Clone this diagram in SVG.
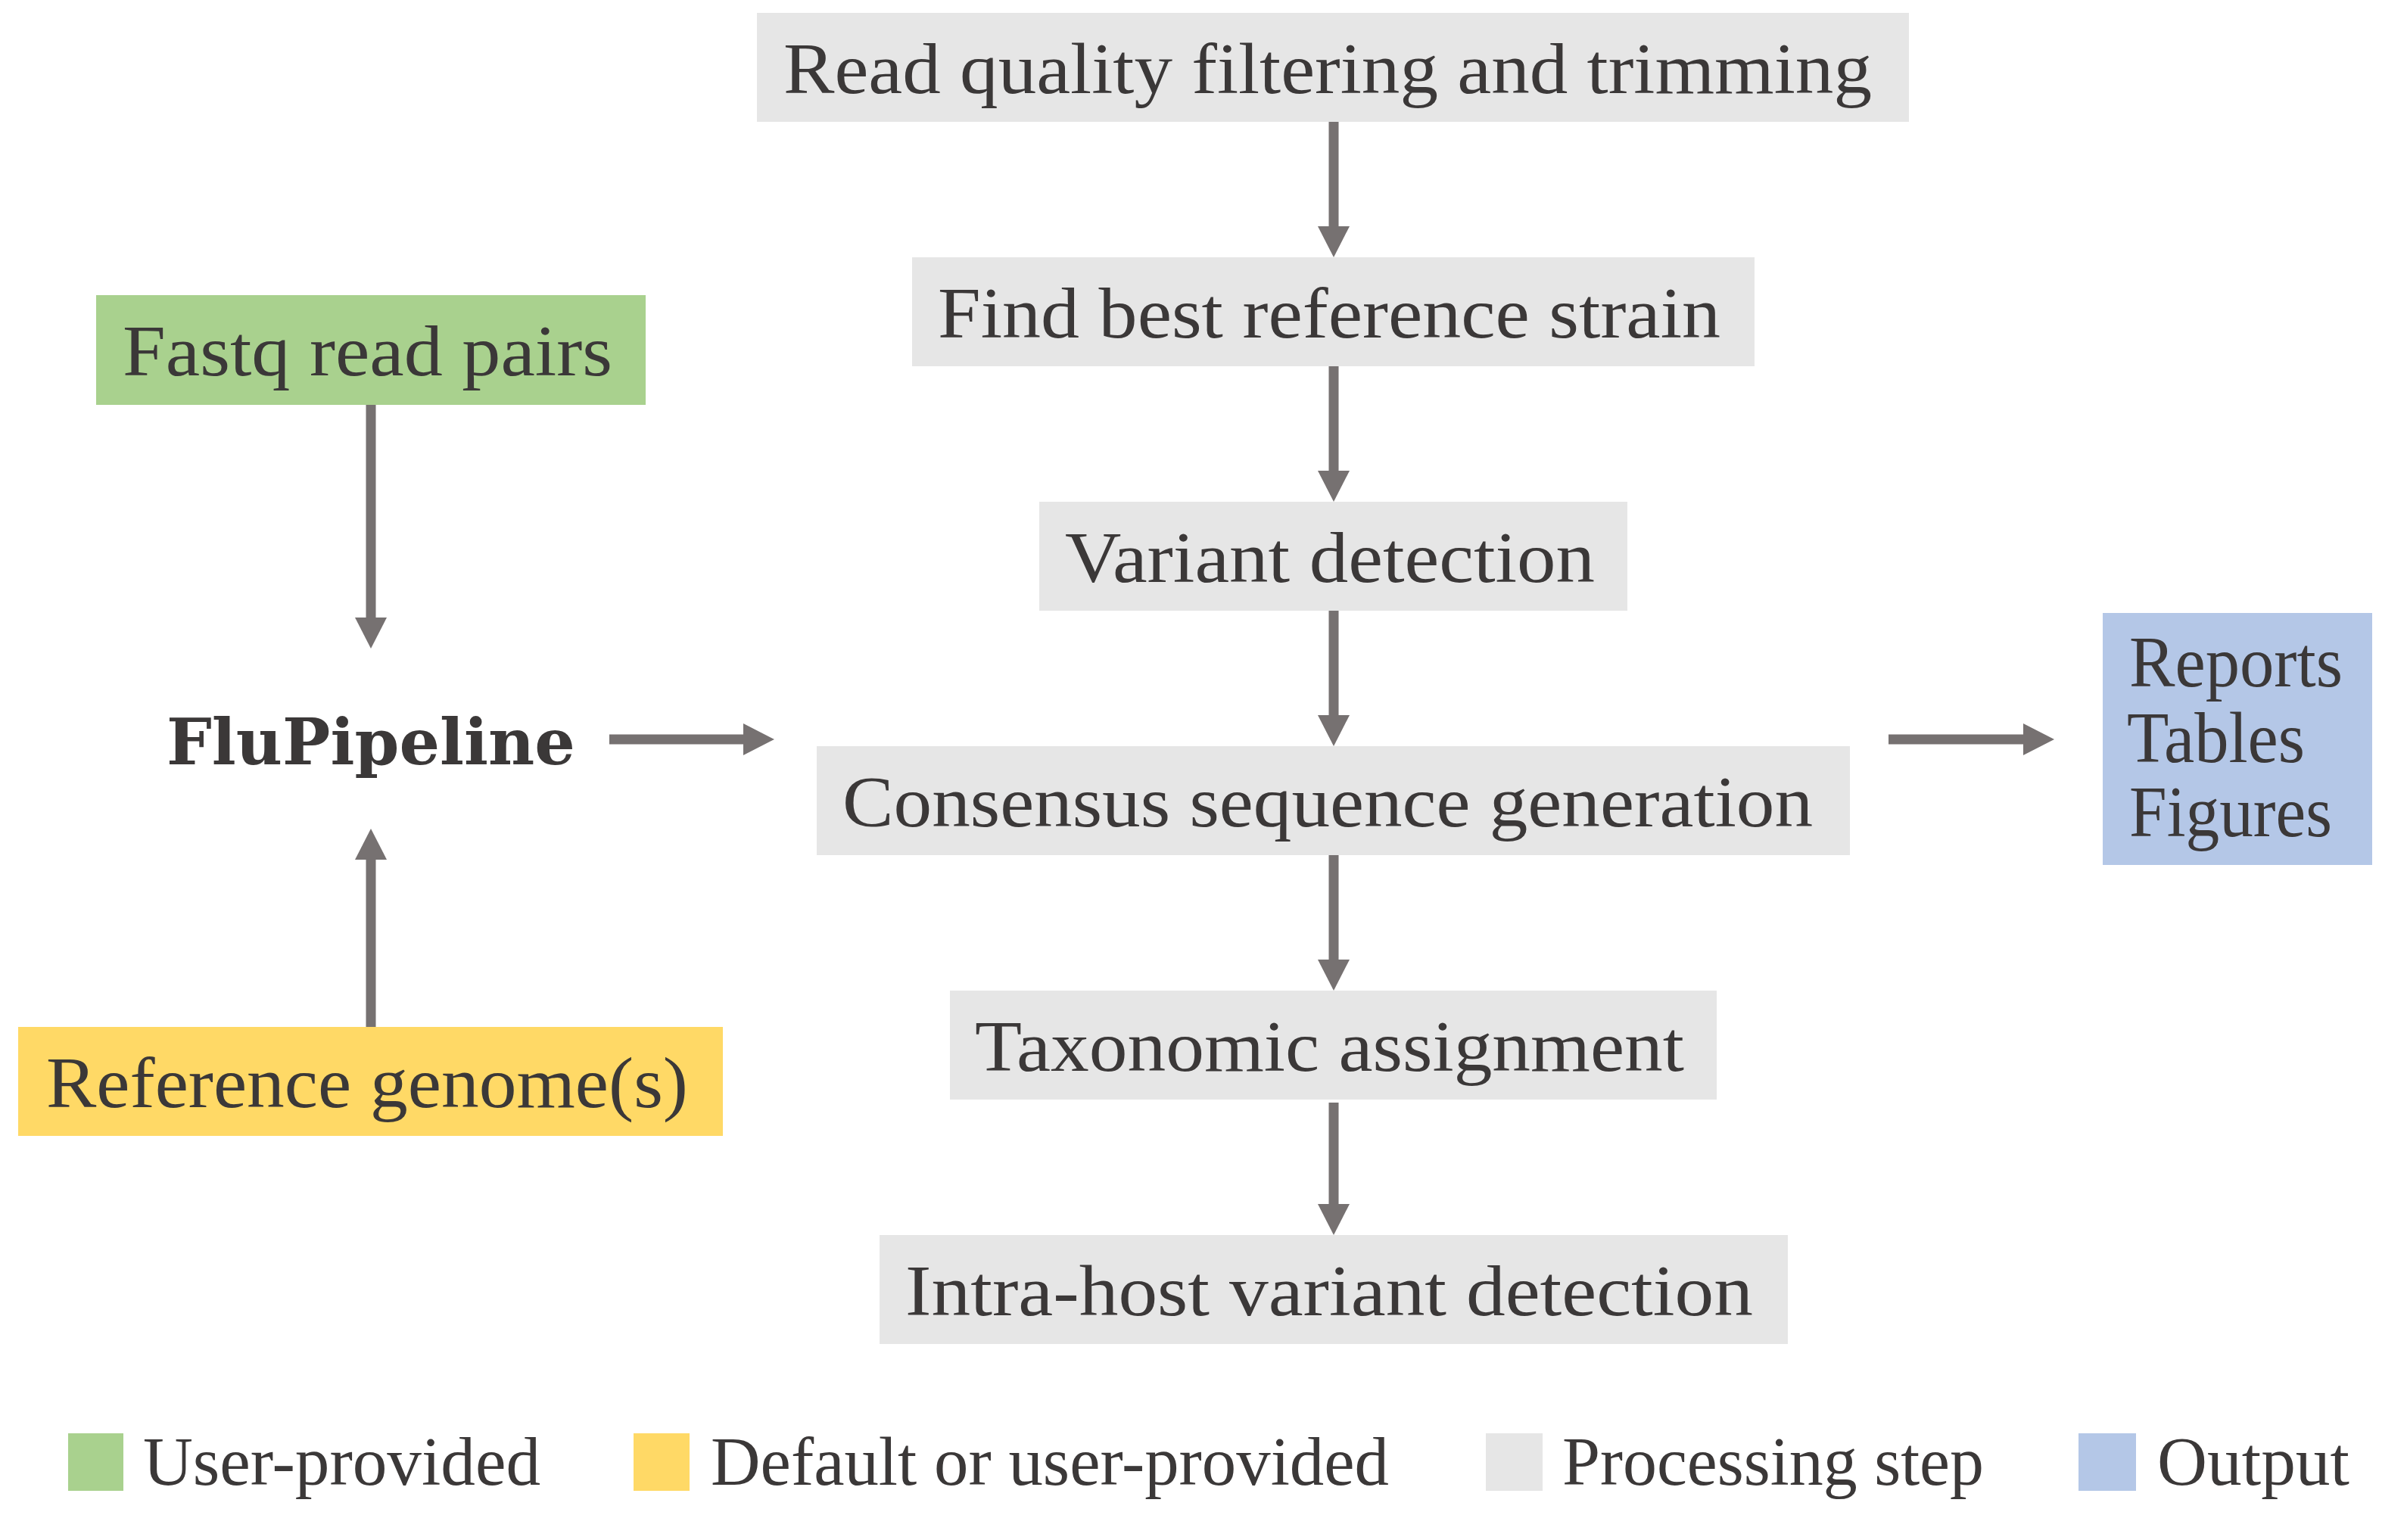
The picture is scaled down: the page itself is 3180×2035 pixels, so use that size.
<svg xmlns="http://www.w3.org/2000/svg" width="3180" height="2035" viewBox="0 0 3180 2035">
<style>
.t{font-family:"Liberation Serif","Times New Roman",serif;font-size:96px;fill:#3b3838}
.lg{font-family:"Liberation Serif","Times New Roman",serif;font-size:90px;fill:#3b3838}
.b{font-family:"DejaVu Serif","Liberation Serif",serif;font-weight:bold;font-size:85px;fill:#3b3838}
.proc{fill:#e6e6e6}
.user{fill:#a9d18e}
.def{fill:#ffd966}
.out{fill:#b4c7e7}
.c{stroke:#767171;stroke-width:13;fill:none;marker-end:url(#ah)}
</style>
<defs>
<marker id="ah" viewBox="0 0 41 42" refX="0" refY="21" markerWidth="41" markerHeight="42" markerUnits="userSpaceOnUse" orient="auto">
<path d="M0,0 L41,21 L0,42 Z" fill="#767171"/>
</marker>
</defs>
<rect width="3180" height="2035" fill="#ffffff"/>

<g id="n-read"><rect class="proc" x="1000" y="17" width="1522" height="144"/><text class="t" x="1035" y="123" textLength="1438" lengthAdjust="spacingAndGlyphs">Read quality filtering and trimming</text></g>
<g id="n-find"><rect class="proc" x="1205" y="340" width="1113" height="144"/><text class="t" x="1239" y="446" textLength="1034" lengthAdjust="spacingAndGlyphs">Find best reference strain</text></g>
<g id="n-variant"><rect class="proc" x="1373" y="663" width="777" height="144"/><text class="t" x="1407" y="769" textLength="700" lengthAdjust="spacingAndGlyphs">Variant detection</text></g>
<g id="n-consensus"><rect class="proc" x="1079" y="986" width="1365" height="144"/><text class="t" x="1113" y="1092" textLength="1282" lengthAdjust="spacingAndGlyphs">Consensus sequence generation</text></g>
<g id="n-tax"><rect class="proc" x="1255" y="1309" width="1013" height="144"/><text class="t" x="1288" y="1415" textLength="937" lengthAdjust="spacingAndGlyphs">Taxonomic assignment</text></g>
<g id="n-intra"><rect class="proc" x="1162" y="1632" width="1200" height="144"/><text class="t" x="1196" y="1738" textLength="1120" lengthAdjust="spacingAndGlyphs">Intra-host variant detection</text></g>

<g id="n-fastq"><rect class="user" x="127" y="390" width="726" height="145"/><text class="t" x="162" y="496" textLength="647" lengthAdjust="spacingAndGlyphs">Fastq read pairs</text></g>
<g id="n-ref"><rect class="def" x="24" y="1357" width="931" height="144"/><text class="t" x="61" y="1463" textLength="848" lengthAdjust="spacingAndGlyphs">Reference genome(s)</text></g>
<g id="n-flu"><text class="b" x="220" y="1010" textLength="540" lengthAdjust="spacingAndGlyphs">FluPipeline</text></g>
<g id="n-out"><rect class="out" x="2778" y="810" width="356" height="333"/>
<text class="t" x="2813" y="907" textLength="282" lengthAdjust="spacingAndGlyphs">Reports</text>
<text class="t" x="2810" y="1007" textLength="235" lengthAdjust="spacingAndGlyphs">Tables</text>
<text class="t" x="2813" y="1105" textLength="268" lengthAdjust="spacingAndGlyphs">Figures</text></g>

<g id="connectors">
<line class="c" x1="1762" y1="161" x2="1762" y2="299"/>
<line class="c" x1="1762" y1="484" x2="1762" y2="622"/>
<line class="c" x1="1762" y1="807" x2="1762" y2="945"/>
<line class="c" x1="1762" y1="1130" x2="1762" y2="1268"/>
<line class="c" x1="1762" y1="1457" x2="1762" y2="1591"/>
<line class="c" x1="490" y1="535" x2="490" y2="816"/>
<line class="c" x1="490" y1="1357" x2="490" y2="1136"/>
<line class="c" x1="805" y1="977" x2="982" y2="977"/>
<line class="c" x1="2495" y1="977" x2="2673" y2="977"/>
</g>

<g id="legend">
<rect class="user" x="90" y="1894" width="73" height="76"/>
<text class="lg" x="189" y="1962" textLength="525" lengthAdjust="spacingAndGlyphs">User-provided</text>
<rect class="def" x="837" y="1894" width="74" height="76"/>
<text class="lg" x="939" y="1962" textLength="896" lengthAdjust="spacingAndGlyphs">Default or user-provided</text>
<rect class="proc" x="1963" y="1894" width="75" height="76"/>
<text class="lg" x="2064" y="1962" textLength="557" lengthAdjust="spacingAndGlyphs">Processing step</text>
<rect class="out" x="2746" y="1894" width="76" height="76"/>
<text class="lg" x="2850" y="1962" textLength="254" lengthAdjust="spacingAndGlyphs">Output</text>
</g>
</svg>
